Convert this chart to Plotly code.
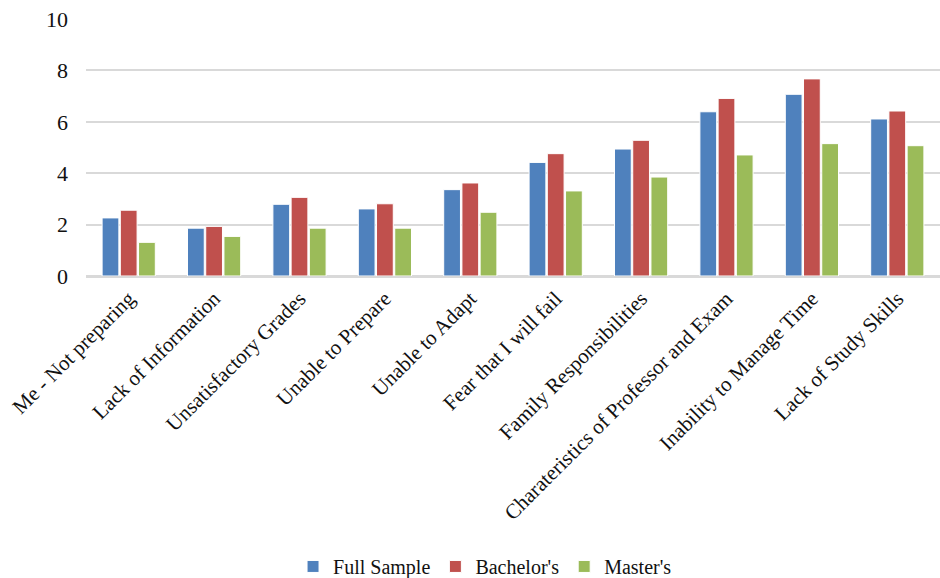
import plotly.graph_objects as go

categories = ["Me - Not preparing", "Lack of Information", "Unsatisfactory Grades",
              "Unable to Prepare", "Unable to Adapt", "Fear that I will fail",
              "Family Responsibilities", "Charateristics of Professor and Exam",
              "Inability to Manage Time", "Lack of Study Skills"]
full_sample = [2.26, 1.86, 2.79, 2.61, 3.36, 4.42, 4.94, 6.39, 7.07, 6.11]
bachelors = [2.56, 1.93, 3.06, 2.81, 3.62, 4.76, 5.28, 6.91, 7.67, 6.42]
masters = [1.31, 1.54, 1.86, 1.86, 2.48, 3.31, 3.85, 4.71, 5.15, 5.07]

series = [("Full Sample", full_sample, "#4F81BD"),
          ("Bachelor's", bachelors, "#C0504D"),
          ("Master's", masters, "#9BBB59")]

fig = go.Figure()
for name, vals, color in series:
    fig.add_trace(go.Bar(x=categories, y=vals, name=name,
                         marker=dict(color=color, line=dict(color="white", width=1))))

font = "Liberation Serif, Times New Roman, serif"
fig.update_layout(
    width=940, height=578,
    margin=dict(l=86, r=0, t=19, b=302, autoexpand=False),
    paper_bgcolor="white", plot_bgcolor="white",
    barmode="group", bargap=0.36, bargroupgap=0.08,
    font=dict(family=font, size=21, color="#111111"),
    showlegend=True,
    legend=dict(orientation="h", x=0.516, xanchor="center", xref="container",
                y=0.02, yanchor="middle", yref="container",
                font=dict(family=font, size=20, color="#111111"),
                itemwidth=30, traceorder="normal"),
    xaxis=dict(tickangle=-45, showgrid=False, showline=True, linecolor="#D9D9D9",
               linewidth=2, ticks="", automargin=False,
               tickfont=dict(family=font, size=21, color="#111111")),
    yaxis=dict(range=[0, 10], dtick=2, showgrid=True, gridcolor="#D9D9D9", gridwidth=2,
               zeroline=True, zerolinecolor="#D9D9D9", zerolinewidth=2,
               ticks="", automargin=False,
               tickfont=dict(family=font, size=22, color="#111111"),
               ticklabelstandoff=17),
)

fig.write_html("out.html")
